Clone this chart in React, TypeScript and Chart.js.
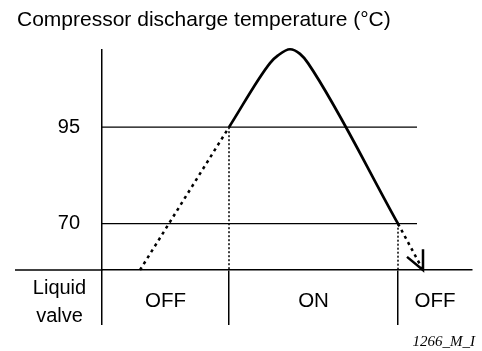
import React, { useEffect, useRef } from "react";
import { Chart, registerables } from "chart.js";

Chart.register(...registerables);

// Time axis (arbitrary units) and valve switching points
const valveSwitch = [0, 12.7, 29.6];
const valveStates = ["OFF", "ON", "OFF"];
const timeEnd = 37;

// Temperature thresholds (°C) and how far their guide lines run
const thresholds = [95, 70];
const thresholdEnd = 31.5;
const tempMin = 58;
const tempMax = 115;

// Discharge temperature while the valve is OFF (rise), ON, and after it closes again
const riseTime = [3.8, 12.7];
const riseTemp = [58, 95];
const onTime = [12.7, 16.8, 17.6, 18.8, 19.8, 20.6, 29.6];
const onTemp = [95, 111.6, 113.6, 115.2, 114, 111.6, 70];
const fallTime = [29.6, 32.1];
const fallTemp = [70, 58];
const arrowTime = [30.5, 32.1, 32.1];
const arrowTemp = [61.4, 58, 63.4];

const FONT = "'Liberation Sans', Arial, sans-serif";

const pts = (xs: number[], ys: number[]) => xs.map((x, i) => ({ x, y: ys[i] }));

const valveTable = {
  id: "valveTable",
  afterDraw(chart: any) {
    const { ctx, chartArea, scales } = chart;
    const xs = scales.x;
    const base = chartArea.bottom;
    ctx.save();
    // baseline continues under the row header
    ctx.strokeStyle = "#000";
    ctx.lineWidth = 1.5;
    ctx.beginPath();
    ctx.moveTo(15, base);
    ctx.lineTo(chartArea.left, base);
    ctx.stroke();

    ctx.fillStyle = "#000";
    ctx.font = `20px ${FONT}`;
    ctx.textAlign = "center";
    ctx.textBaseline = "alphabetic";
    const headX = (15 + chartArea.left) / 2 + 1;
    ctx.fillText("Liquid", headX, base + 24);
    ctx.fillText("valve", headX, base + 52);

    const bounds = [...valveSwitch, timeEnd];
    ctx.font = `20.5px ${FONT}`;
    valveStates.forEach((s, i) => {
      const cx = (xs.getPixelForValue(bounds[i]) + xs.getPixelForValue(bounds[i + 1])) / 2;
      ctx.fillText(s, cx, base + 37);
    });

    ctx.font = `italic 15px 'Liberation Serif', 'Times New Roman', serif`;
    ctx.textAlign = "right";
    ctx.fillText("1266_M_I", 475, 346);
    ctx.restore();
  },
};

export default function App() {
  const ref = useRef<HTMLCanvasElement>(null);

  useEffect(() => {
    if (!ref.current) return;
    const line = (data: any[], extra: any) => ({
      type: "line",
      data,
      borderColor: "#000",
      pointRadius: 0,
      showLine: true,
      clip: false,
      fill: false,
      ...extra,
    });

    const datasets: any[] = [
      ...thresholds.map((t) =>
        line(
          [
            { x: 0, y: t },
            { x: thresholdEnd, y: t },
          ],
          { borderWidth: 1.3 }
        )
      ),
      line(
        [
          { x: valveSwitch[1], y: thresholds[0] },
          { x: valveSwitch[1], y: tempMin },
        ],
        { borderWidth: 1.5, borderDash: [2, 2] }
      ),
      line(
        [
          { x: valveSwitch[2], y: thresholds[1] },
          { x: valveSwitch[2], y: tempMin },
        ],
        { borderWidth: 1.5, borderDash: [2, 2] }
      ),
      line(pts(riseTime, riseTemp), { borderWidth: 2.5, borderDash: [3, 4] }),
      line(pts(onTime, onTemp), {
        borderWidth: 2.7,
        cubicInterpolationMode: "monotone",
        borderJoinStyle: "round",
      }),
      line(pts(fallTime, fallTemp), { borderWidth: 2.5, borderDash: [3, 4] }),
      line(pts(arrowTime, arrowTemp), { borderWidth: 2.5 }),
    ];

    const chart = new Chart(ref.current, {
      type: "line",
      data: { datasets },
      options: {
        animation: false,
        responsive: false,
        maintainAspectRatio: false,
        devicePixelRatio: 1,
        layout: { padding: { left: 17, right: 10, top: 0, bottom: 26 } },
        plugins: {
          legend: { display: false },
          tooltip: { enabled: false },
          title: {
            display: true,
            text: "Compressor discharge temperature (°C)",
            align: "start",
            color: "#000",
            font: { family: FONT, size: 21, weight: "normal" },
            padding: { top: 8, bottom: 16.8 },
          },
        },
        scales: {
          x: {
            type: "linear",
            min: 0,
            max: timeEnd,
            afterBuildTicks: (s: any) => {
              s.ticks = valveSwitch.map((v) => ({ value: v }));
            },
            afterFit: (s: any) => {
              s.height = 55;
            },
            ticks: { display: false },
            grid: {
              display: true,
              drawOnChartArea: false,
              drawTicks: true,
              tickLength: 55,
              color: "#000",
              lineWidth: 1.5,
            },
            border: { display: true, color: "#000", width: 1.5 },
          },
          y: {
            type: "linear",
            min: tempMin,
            max: tempMax,
            afterBuildTicks: (s: any) => {
              s.ticks = thresholds.map((v) => ({ value: v }));
            },
            afterFit: (s: any) => {
              s.width = 85;
            },
            ticks: {
              color: "#000",
              padding: 22,
              font: { family: FONT, size: 20 },
            },
            grid: { display: false, drawTicks: false },
            border: { display: true, color: "#000", width: 1.5 },
          },
        },
      },
      plugins: [valveTable],
    } as any);
    return () => chart.destroy();
  }, []);

  return (
    <div style={{ position: "absolute", left: 0, top: 0, width: 482, height: 351, background: "#fff" }}>
      <canvas ref={ref} width={482} height={351} style={{ display: "block" }} />
    </div>
  );
}
